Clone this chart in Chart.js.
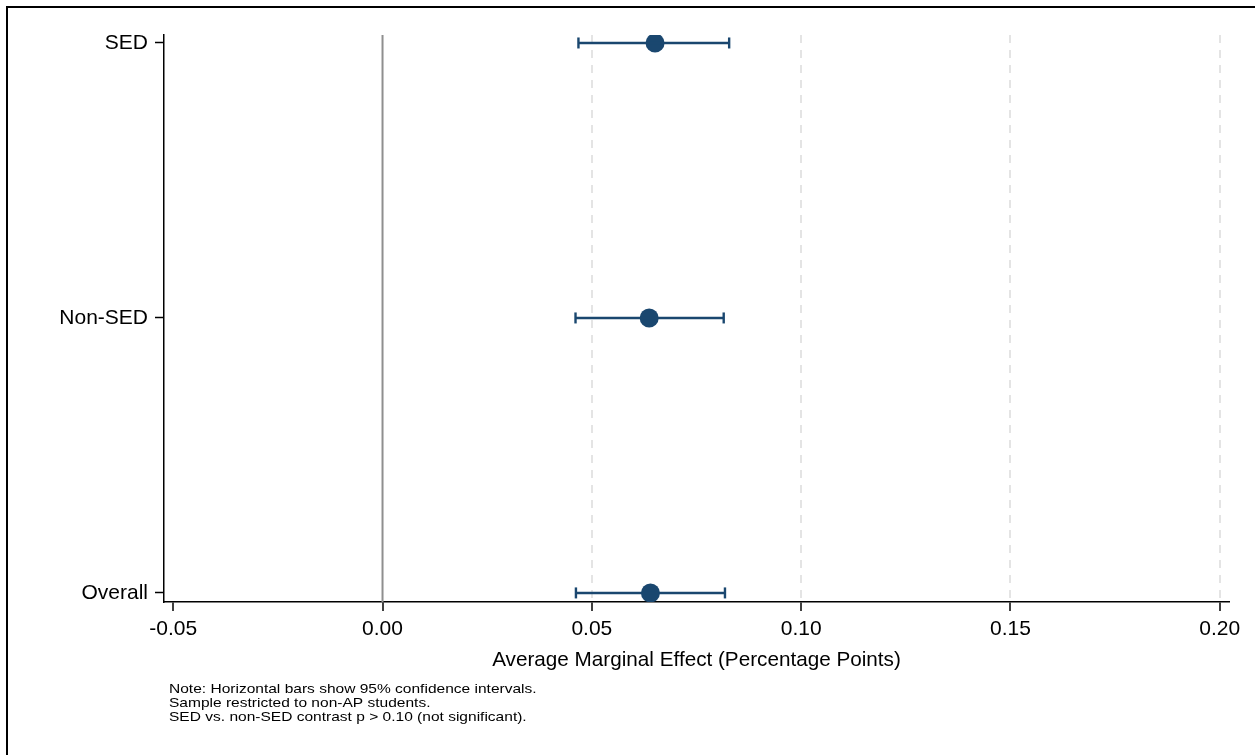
<!DOCTYPE html>
<html>
<head>
<meta charset="utf-8">
<title>Average Marginal Effect</title>
<script src="https://cdn.jsdelivr.net/npm/chart.js@4"></script>
<style>
    body { margin: 0; background: #ffffff; }
    #wrap { width: 1255px; height: 755px; position: relative; }
</style>
</head>
<body>
<div id="wrap"><canvas id="coefChart"></canvas></div>
<script>
// ---- data (bottom to top) ----
const groups = ['Overall', 'Non-SED', 'SED'];
const estimates = [0.0640, 0.0637, 0.0651];
const ciLow = [0.0462, 0.0461, 0.0468];
const ciHigh = [0.0818, 0.0815, 0.0828];
const xTicks = [-0.05, 0.00, 0.05, 0.10, 0.15, 0.20];
const xRange = [-0.0522, 0.2022];
const yRange = [-0.033, 2.029];
const notes = [
    'Note: Horizontal bars show 95% confidence intervals.',
    'Sample restricted to non-AP students.',
    'SED vs. non-SED contrast p > 0.10 (not significant).'
];

const NAVY = '#1a476f';
const FONT = "'Liberation Sans', Arial, Helvetica, sans-serif";

// one line dataset per group for the confidence interval
const ciSets = groups.map(function(g, i) {
    return {
        type: 'line',
        label: g + ' CI',
        data: [{ x: ciLow[i], y: i }, { x: ciHigh[i], y: i }],
        borderColor: NAVY,
        borderWidth: 2.4,
        pointStyle: 'line',
        rotation: 90,
        pointRadius: 5.5,
        pointBorderWidth: 2.4,
        pointBorderColor: NAVY,
        fill: false
    };
});

const pointSet = {
    type: 'scatter',
    label: 'Estimate',
    data: estimates.map(function(v, i) { return { x: v, y: i }; }),
    backgroundColor: NAVY,
    borderWidth: 0,
    pointRadius: 9.5
};

// outer frame, zero line and the note block
const extras = {
    id: 'extras',
    beforeDraw: function(chart) {
        const ctx = chart.ctx;
        ctx.save();
        ctx.fillStyle = '#ffffff';
        ctx.fillRect(0, 0, chart.width, chart.height);
        ctx.strokeStyle = '#000000';
        ctx.lineWidth = 2;
        ctx.strokeRect(7, 7, chart.width + 10, chart.height + 10);
        ctx.restore();
    },
    beforeDatasetsDraw: function(chart) {
        const ctx = chart.ctx;
        const area = chart.chartArea;
        const x0 = chart.scales.x.getPixelForValue(0);
        ctx.save();
        ctx.strokeStyle = '#8f8f8f';
        ctx.lineWidth = 2;
        ctx.beginPath();
        ctx.moveTo(x0, area.top);
        ctx.lineTo(x0, area.bottom);
        ctx.stroke();
        ctx.restore();
    },
    afterDraw: function(chart) {
        const ctx = chart.ctx;
        ctx.save();
        ctx.fillStyle = '#000000';
        ctx.font = '13.5px ' + FONT;
        ctx.textBaseline = 'middle';
        notes.forEach(function(line, i) {
            ctx.save();
            ctx.translate(169, 689 + i * 14);
            ctx.scale(1.15, 1);
            ctx.fillText(line, 0, 0);
            ctx.restore();
        });
        ctx.restore();
    }
};

new Chart(document.getElementById('coefChart'), {
    data: { datasets: ciSets.concat([pointSet]) },
    options: {
        responsive: true,
        maintainAspectRatio: false,
        animation: false,
        layout: { padding: { top: 35, right: 26, left: 0, bottom: 0 } },
        plugins: {
            legend: { display: false },
            tooltip: { enabled: false }
        },
        scales: {
            x: {
                type: 'linear',
                min: xRange[0],
                max: xRange[1],
                afterBuildTicks: function(scale) {
                    scale.ticks = xTicks.map(function(v) { return { value: v }; });
                },
                afterFit: function(scale) { scale.height = 153; },
                grid: {
                    color: function(c) {
                        return c.tick && c.tick.value > 0.001 ? '#e4e4e4' : 'rgba(0,0,0,0)';
                    },
                    lineWidth: 2,
                    tickColor: '#000000',
                    tickLength: 9,
                    tickWidth: 1.5
                },
                border: { display: true, color: '#000000', width: 1.5, dash: [8, 7] },
                ticks: {
                    color: '#000000',
                    padding: 6,
                    font: { family: FONT, size: 21 },
                    callback: function(v) { return Number(v).toFixed(2); }
                },
                title: {
                    display: true,
                    text: 'Average Marginal Effect (Percentage Points)',
                    color: '#000000',
                    font: { family: FONT, size: 20.7 },
                    padding: { top: 0, bottom: 82 }
                }
            },
            y: {
                type: 'linear',
                min: yRange[0],
                max: yRange[1],
                afterBuildTicks: function(scale) {
                    scale.ticks = groups.map(function(g, i) { return { value: i }; });
                },
                afterFit: function(scale) { scale.width = 164; },
                grid: {
                    drawOnChartArea: false,
                    tickColor: '#000000',
                    tickLength: 9,
                    tickWidth: 1.5
                },
                border: { display: true, color: '#000000', width: 1.5 },
                ticks: {
                    color: '#000000',
                    padding: 7,
                    font: { family: FONT, size: 21 },
                    callback: function(v) { return groups[v] || ''; }
                }
            }
        }
    },
    plugins: [extras]
});
</script>
</body>
</html>
